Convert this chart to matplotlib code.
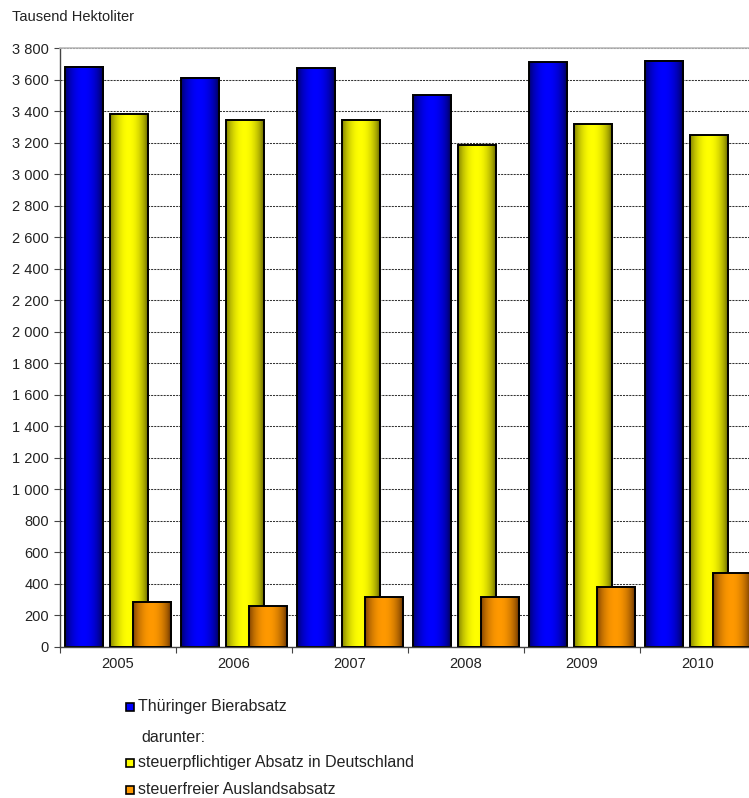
import numpy as np
import matplotlib
matplotlib.use("Agg")
import matplotlib.pyplot as plt
from matplotlib.patches import Rectangle
from matplotlib.ticker import FuncFormatter

plt.rcParams['font.family'] = ['Liberation Sans', 'DejaVu Sans']

years = ['2005', '2006', '2007', '2008', '2009', '2010']
bierabsatz = [3680, 3610, 3670, 3500, 3710, 3720]
inland = [3380, 3345, 3345, 3185, 3320, 3245]
ausland = [287, 260, 317, 317, 383, 468]

series_names = ['Thüringer Bierabsatz', 'steuerpflichtiger Absatz in Deutschland',
                'steuerfreier Auslandsabsatz']
# (dark edge colour, bright colour) for the cylinder look
shades = [((0.0, 0.0, 0.40), (0.0, 0.0, 1.0)),
          ((0.47, 0.47, 0.0), (1.0, 1.0, 0.0)),
          ((0.47, 0.24, 0.0), (1.0, 0.6, 0.0))]
offsets = [0.207, 0.595, 0.789]
bar_w = 0.328


def gradient(dark, bright):
    t = np.linspace(0, 1, 64)
    f = np.sin(np.pi * np.clip(t / 0.95, 0, 1)) ** 0.7
    dark = np.array(dark)
    bright = np.array(bright)
    img = dark[None, :] + (bright - dark)[None, :] * f[:, None]
    return img[None, :, :]


fig = plt.figure(figsize=(7.49, 7.98), dpi=100)
ax = fig.add_axes([60 / 749, (798 - 647) / 798, (756 - 60) / 749, 599 / 798])

for s, vals in enumerate([bierabsatz, inland, ausland]):
    dark, bright = shades[s]
    img = gradient(dark, bright)
    for i, v in enumerate(vals):
        x0 = i + offsets[s] - bar_w / 2
        ax.imshow(img, extent=(x0, x0 + bar_w, 0, v), aspect='auto',
                  interpolation='bilinear', zorder=2 + s)
        ax.add_patch(Rectangle((x0, 0), bar_w, v, fill=False, edgecolor='black',
                               linewidth=1.4, zorder=2.5 + s))

ax.set_xlim(0, 6)
ax.set_ylim(0, 3800)

ax.set_yticks(np.arange(0, 3801, 200))
ax.yaxis.set_major_formatter(FuncFormatter(lambda v, p: f'{int(v):,}'.replace(',', ' ')))
ax.grid(axis='y', color='#333333', linestyle=(0, (2, 1)), linewidth=0.75, zorder=1)
ax.set_axisbelow(True)

ax.set_xticks(np.arange(0, 7))
ax.set_xticklabels([])
ax.set_xticks(np.arange(6) + 0.5, minor=True)
ax.set_xticklabels(years, minor=True)
ax.tick_params(axis='x', which='minor', length=0, pad=7, labelsize=10.5, colors='#222222')
ax.tick_params(axis='x', which='major', length=4, color='#444444', direction='out')
ax.tick_params(axis='y', length=4, color='#444444', labelsize=10.5, labelcolor='#222222', pad=4)

for side in ['left', 'bottom']:
    ax.spines[side].set_color('#444444')
    ax.spines[side].set_linewidth(1.0)
ax.spines['top'].set_color('#bbbbbb')
ax.spines['top'].set_linewidth(1.2)
ax.spines['right'].set_visible(False)

fig.text(12 / 749, 1 - 17 / 798, 'Tausend Hektoliter', fontsize=10.5, color='#222222',
         va='center', ha='left')

# legend below the chart
leg_rows = [(707, series_names[0], shades[0][1]),
            (737, 'darunter:', None),
            (763, series_names[1], shades[1][1]),
            (790, series_names[2], shades[2][1])]
for y, label, col in leg_rows:
    if col is not None:
        fig.patches.append(Rectangle((126 / 749, 1 - (y + 4) / 798), 8 / 749, 8 / 798,
                                     facecolor=col, edgecolor='black', linewidth=1.2,
                                     transform=fig.transFigure))
        fig.text(138 / 749, 1 - y / 798, label, fontsize=11.5, color='#222222',
                 va='center', ha='left')
    else:
        fig.text(141 / 749, 1 - y / 798, label, fontsize=11.5, color='#222222',
                 va='center', ha='left')

fig.savefig('out.png', dpi=100)
